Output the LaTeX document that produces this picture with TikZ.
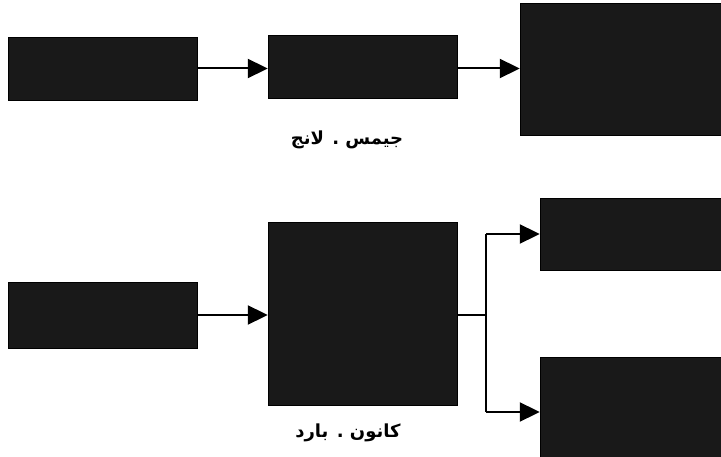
\documentclass[tikz,border=0pt]{standalone}
\usepackage{fontspec}
\usetikzlibrary{arrows.meta, positioning}
\newfontfamily\arabicfont[Script=Arabic]{DejaVu Sans}
\TeXXeTstate=1

\begin{document}
\begin{tikzpicture}[x=1pt, y=-1pt,
  blk/.style={rectangle, draw=black, fill=black!90, inner sep=0pt},
  lbl/.style={font=\arabicfont\bfseries\fontsize{18}{20}\selectfont, inner sep=0pt},
  arr/.style={line width=2pt, -{Triangle[length=20pt, width=19pt]}},
  lnk/.style={line width=2pt},
]
  \useasboundingbox (0,0) rectangle (721,457);

  % James-Lange row
  \node[blk, minimum width=189pt, minimum height=63pt]  (jl1) at (102.5,68.5) {};
  \node[blk, minimum width=189pt, minimum height=63pt]  (jl2) at (362.5,67) {};
  \node[blk, minimum width=205pt, minimum height=132pt] (jl3) at (622.5,69) {};
  \draw[arr] (jl1.east) -- (jl2.west |- jl1.east);
  \draw[arr] (jl2.east |- jl1.east) -- (jl3.west |- jl1.east);
  \node[lbl] (jllbl) at (347,140) {\beginR جيمس . لانج\endR};

  % Cannon-Bard row
  \node[blk, minimum width=189pt, minimum height=66pt]  (cb1) at (102.5,315) {};
  \node[blk, minimum width=189pt, minimum height=183pt] (cb2) at (362.5,313.5) {};
  \node[blk, minimum width=185pt, minimum height=72pt]  (cb3) at (632.5,234) {};
  \node[blk, minimum width=185pt, minimum height=110pt] (cb4) at (632.5,412) {};
  \draw[arr] (cb1.east) -- (cb2.west |- cb1.east);
  \coordinate (fork) at (486,315);
  \draw[lnk] (cb2.east |- fork) -- (fork);
  \draw[lnk] (fork |- cb3.west) -- (fork |- cb4.west);
  \draw[arr] (fork |- cb3.west) -- (cb3.west);
  \draw[arr] (fork |- cb4.west) -- (cb4.west);
  \node[lbl] (cblbl) at (348,433) {\beginR كانون . بارد\endR};
\end{tikzpicture}
\end{document}
